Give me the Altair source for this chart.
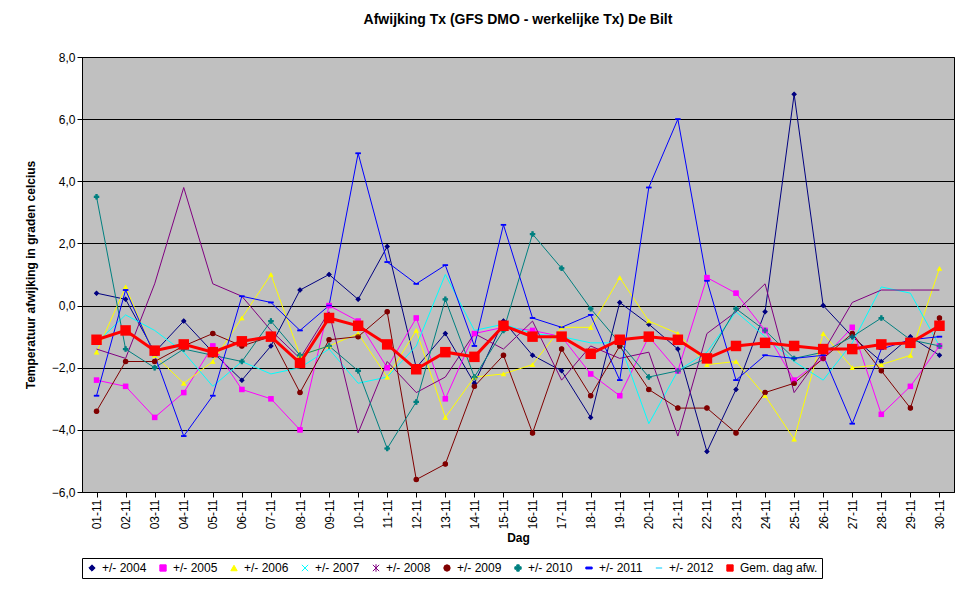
import altair as alt
import pandas as pd

days = [f"{d:02d}-11" for d in range(1, 31)]

series_names = ["+/- 2004", "+/- 2005", "+/- 2006", "+/- 2007", "+/- 2008",
                "+/- 2009", "+/- 2010", "+/- 2011", "+/- 2012", "Gem. dag afw."]
colors = ["#000080", "#FF00FF", "#FFFF00", "#00FFFF", "#800080",
          "#800000", "#008080", "#0000FF", "#00CCFF", "#FF0000"]
shapes = ["diamond", "square", "triangle-up", "M-1,-1L1,1M1,-1L-1,1",
          "M-1,-1L1,1M1,-1L-1,1M0,-1.2L0,1.2", "circle", "cross",
          "M-1,-0.3L1,-0.3L1,0.3L-1,0.3Z", "M-1,0L1,0", "square"]

v2004 = [0.4, 0.2, -1.5, -0.5, -1.5, -2.4, -1.3, 0.5, 1.0, 0.2, 1.9, -2.0, -0.9, -2.5, -0.5,
         -1.6, -2.1, -3.6, 0.1, -0.6, -1.4, -4.7, -2.7, -0.2, 6.8, 0.0, -1.0, -1.8, -1.0, -1.6]
v2005 = [-2.4, -2.6, -3.6, -2.8, -1.3, -2.7, -3.0, -4.0, 0.0, -0.5, -2.0, -0.4, -3.0, -0.9, -0.7,
         -0.8, -1.0, -2.2, -2.9, -1.0, -2.1, 0.9, 0.4, -0.8, -2.4, -1.7, -0.7, -3.5, -2.6, -1.3]
v2006 = [-1.5, 0.6, -1.6, -2.5, -1.8, -0.4, 1.0, -1.6, -1.3, -0.9, -2.3, -0.8, -3.6, -2.3, -2.2,
         -1.9, -0.7, -0.7, 0.9, -0.5, -0.9, -1.9, -1.8, -2.9, -4.3, -0.9, -2.0, -1.9, -1.6, 1.2]
v2007 = [-1.2, -0.3, -0.8, -1.5, -2.6, -1.8, -2.2, -2.0, -1.4, -2.5, -2.3, -1.3, 1.0, -0.8, -0.6,
         -0.9, -1.0, -1.2, -1.2, -3.8, -2.1, -1.5, -0.2, -1.0, -1.8, -2.4, -1.2, 0.6, 0.4, -1.3]
v2008 = [-1.4, -1.7, 0.7, 3.8, 0.7, 0.3, -0.8, -1.7, -0.2, -4.1, -1.8, -2.8, -2.3, -0.9, -1.4,
         -0.5, -2.4, -1.3, -1.7, -1.5, -4.2, -0.9, -0.2, 0.7, -2.8, -1.5, 0.1, 0.5, 0.5, 0.5]
v2009 = [-3.4, -1.8, -1.8, -1.3, -0.9, -1.3, -1.0, -2.8, -1.1, -1.0, -0.2, -5.6, -5.1, -2.6, -1.6,
         -4.1, -1.4, -2.9, -1.3, -2.7, -3.3, -3.3, -4.1, -2.8, -2.5, -1.7, -0.9, -2.1, -3.3, -0.4]
v2010 = [3.5, -1.4, -2.0, -1.4, -1.6, -1.8, -0.5, -1.6, -1.3, -2.1, -4.6, -3.1, 0.2, -2.3, -0.8,
         2.3, 1.2, -0.1, -1.2, -2.3, -2.1, -1.7, -0.1, -0.8, -1.7, -1.5, -1.0, -0.4, -1.1, -1.3]
v2011 = [-2.9, 0.5, -1.6, -4.2, -2.9, 0.3, 0.1, -0.8, 0.0, 4.9, 1.4, 0.7, 1.3, -1.3, 2.6,
         -0.4, -0.7, -0.3, -2.4, 3.8, 6.0, 0.8, -2.4, -1.6, -1.7, -1.6, -3.8, -1.4, -1.1, -1.0]
v2012 = [None] * 30
vmean = [-1.1, -0.8, -1.45, -1.25, -1.5, -1.15, -1.0, -1.85, -0.4, -0.65, -1.25, -2.05, -1.5,
         -1.65, -0.65, -1.0, -1.0, -1.55, -1.1, -1.0, -1.1, -1.7, -1.3, -1.2, -1.3, -1.4, -1.4,
         -1.25, -1.2, -0.65]

all_values = [v2004, v2005, v2006, v2007, v2008, v2009, v2010, v2011, v2012, vmean]
rows = []
for name, vals in zip(series_names, all_values):
    for d, v in zip(days, vals):
        rows.append({"dag": d, "serie": name, "waarde": v})
df = pd.DataFrame(rows)
thin = df[df["serie"] != "Gem. dag afw."]
mean = df[df["serie"] == "Gem. dag afw."]

color_scale = alt.Scale(domain=series_names, range=colors)
shape_scale = alt.Scale(domain=series_names, range=shapes)
x = alt.X("dag:N", title="Dag", sort=days,
          scale=alt.Scale(paddingOuter=0.5),
          axis=alt.Axis(labelAngle=-90, labelFontSize=12, titleFontSize=12,
                        labelColor="black", tickColor="black", domainColor="black"))
y = alt.Y("waarde:Q", title="Temperatuur afwijking in graden celcius",
          scale=alt.Scale(domain=[-6, 8], nice=False),
          axis=alt.Axis(values=[-6, -4, -2, 0, 2, 4, 6, 8], gridColor="black", gridOpacity=1,
                        labelExpr="replace(format(datum.value, '.1f'), '.', ',')",
                        labelFontSize=12, titleFontSize=12, labelColor="black",
                        tickColor="black", domainColor="black", titlePadding=14))

legend = alt.Legend(title=None, orient="bottom", direction="horizontal", columns=10,
                    symbolStrokeWidth=1, labelFontSize=12, strokeColor="black",
                    padding=4, symbolSize=40, columnPadding=10, labelColor="black",
                    offset=14)

lines = alt.Chart(thin).mark_line(strokeWidth=1).encode(
    x=x, y=y, color=alt.Color("serie:N", scale=color_scale, legend=legend),
    shape=alt.Shape("serie:N", scale=shape_scale, legend=legend),
)
pts = alt.Chart(thin).mark_point(filled=True, size=25, strokeWidth=1).encode(
    x=x, y=y, color=alt.Color("serie:N", scale=color_scale, legend=legend),
    shape=alt.Shape("serie:N", scale=shape_scale, legend=legend),
)
mline = alt.Chart(mean).mark_line(strokeWidth=3, color="#FF0000").encode(x=x, y=y)
mpts = alt.Chart(mean).mark_square(size=110, color="#FF0000", opacity=1).encode(
    x=x, y=y, color=alt.Color("serie:N", scale=color_scale, legend=legend),
    shape=alt.Shape("serie:N", scale=shape_scale, legend=legend),
)

chart = alt.layer(lines, pts, mline, mpts).properties(
    width=872, height=435, padding={"left": 16, "top": 5, "right": 5, "bottom": 5},
    title=alt.Title("Afwijking Tx (GFS DMO - werkelijke Tx) De Bilt", fontSize=14,
                    fontWeight="bold", offset=24),
).configure(font="Liberation Sans").configure_view(
    fill="#C0C0C0", stroke="black", strokeWidth=1
).configure_axis(labelFontWeight="normal", titleFontWeight="bold", grid=True)
chart = chart.configure_axisX(grid=False)

chart.save("out.html", embed_options={"renderer": "svg", "actions": False})
